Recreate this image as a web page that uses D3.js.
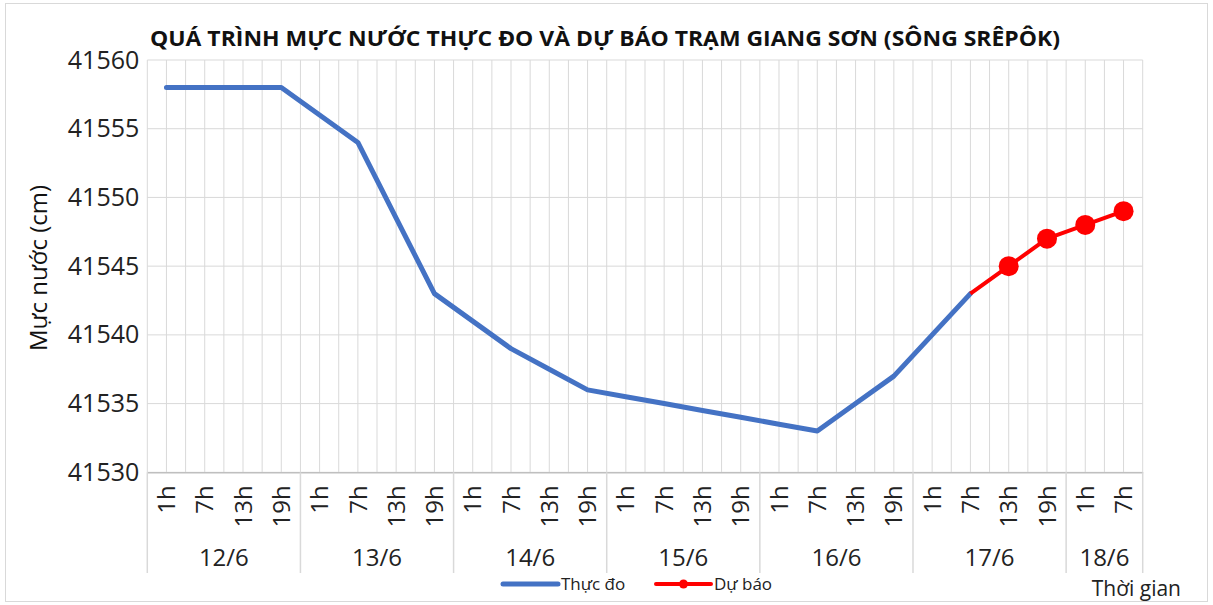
<!DOCTYPE html>
<html>
<head>
<meta charset="utf-8">
<script src="https://cdn.jsdelivr.net/npm/d3@7"></script>
<style>
  body { margin: 0; background: #fff; }
  svg { display: block; font-family: "Open Sans", "Liberation Sans", sans-serif; }
</style>
</head>
<body>
<svg id="chart" width="1213" height="605"></svg>
<script>
const days = ["12/6", "13/6", "14/6", "15/6", "16/6", "17/6", "18/6"];
const hoursPerDay = [
  ["1h", "7h", "13h", "19h"],
  ["1h", "7h", "13h", "19h"],
  ["1h", "7h", "13h", "19h"],
  ["1h", "7h", "13h", "19h"],
  ["1h", "7h", "13h", "19h"],
  ["1h", "7h", "13h", "19h"],
  ["1h", "7h"]
];
const observed = [41558, 41558, 41558, 41558, 41556, 41554, 41548.5, 41543,
                  41541, 41539, 41537.5, 41536, 41535.5, 41535, 41534.5, 41534,
                  41533.5, 41533, 41535, 41537, 41540, 41543,
                  null, null, null, null];
const forecast = [null, null, null, null, null, null, null, null,
                  null, null, null, null, null, null, null, null,
                  null, null, null, null, null, 41543,
                  41545, 41547, 41548, 41549];
const forecastMarked = [false, false, false, false, false, false, false, false,
                        false, false, false, false, false, false, false, false,
                        false, false, false, false, false, false,
                        true, true, true, true];
const yTicks = [41530, 41535, 41540, 41545, 41550, 41555, 41560];
const title = "QUÁ TRÌNH MỰC NƯỚC THỰC ĐO VÀ DỰ BÁO TRẠM GIANG SƠN (SÔNG SRÊPÔK)";
const yTitle = "Mực nước (cm)";
const xTitle = "Thời gian";
const seriesNames = ["Thực đo", "Dự báo"];

// Build categories
const categories = [];
days.forEach((d, i) => hoursPerDay[i].forEach(h => categories.push({ key: d + " " + h, day: d, hour: h })));

const svg = d3.select("#chart");
const pL = 147.3, pR = 1142.7, pT = 60, pB = 472.3;
const BLUE = "#4472C4", RED = "#FF0000", GRID = "#d9d9d9";
const FONT = "'Open Sans', 'Liberation Sans', sans-serif";

// outer border
svg.append("rect").attr("x", 5.5).attr("y", 3.5).attr("width", 1202).attr("height", 598)
  .attr("fill", "#fff").attr("stroke", "#d9d9d9").attr("stroke-width", 1);

const x = d3.scaleBand().domain(categories.map(c => c.key)).range([pL, pR]).padding(0);
const y = d3.scaleLinear().domain([41530, 41560]).range([pB, pT]);
const bw = x.bandwidth();

// vertical gridlines (band edges and centers)
const vLines = [];
categories.forEach(c => { vLines.push(x(c.key)); vLines.push(x(c.key) + bw / 2); });
vLines.push(pR);
svg.append("g").selectAll("line").data(vLines).join("line")
  .attr("x1", d => d).attr("x2", d => d).attr("y1", pT).attr("y2", pB)
  .attr("stroke", GRID).attr("stroke-width", 1);

// horizontal gridlines
svg.append("g").selectAll("line").data(yTicks).join("line")
  .attr("x1", pL).attr("x2", pR).attr("y1", d => y(d)).attr("y2", d => y(d))
  .attr("stroke", GRID).attr("stroke-width", 1);

// y axis labels
const yAxis = svg.append("g").attr("transform", `translate(${pL},0)`)
  .call(d3.axisLeft(y).tickValues(yTicks).tickSize(0).tickPadding(8).tickFormat(d3.format("d")));
yAxis.select(".domain").remove();
yAxis.attr("font-size", null).attr("font-family", null);
yAxis.selectAll("text").style("font-size", "25px").style("font-family", FONT).attr("fill", "#222");

// x axis: hours
const xAxis = svg.append("g").attr("transform", `translate(0,${pB})`)
  .call(d3.axisBottom(x).tickSize(0).tickFormat(k => categories.find(c => c.key === k).hour));
xAxis.attr("font-size", null).attr("font-family", null);
xAxis.select(".domain").attr("stroke", "#bfbfbf").attr("stroke-width", 1.5);
xAxis.selectAll("text")
  .style("font-size", "24px").style("font-family", FONT).attr("fill", "#222")
  .attr("transform", "rotate(-90)")
  .attr("text-anchor", "end")
  .attr("x", -13).attr("y", 0).attr("dy", "0.36em");

// day groups: separators and labels
let idx = 0;
const groups = days.map((d, i) => {
  const first = categories[idx].key;
  idx += hoursPerDay[i].length;
  const last = categories[idx - 1].key;
  return { day: d, x0: x(first), x1: x(last) + bw };
});
const seps = [pL].concat(groups.map(g => g.x1));
svg.append("g").selectAll("line").data(seps).join("line")
  .attr("x1", d => d).attr("x2", d => d).attr("y1", pB).attr("y2", 573)
  .attr("stroke", GRID).attr("stroke-width", 1.5);
svg.append("g").selectAll("text").data(groups).join("text")
  .attr("x", g => (g.x0 + g.x1) / 2).attr("y", 557).attr("dy", "0.36em")
  .attr("text-anchor", "middle").style("font-size", "24px").attr("fill", "#222")
  .text(g => g.day);

// series lines
const cx = i => x(categories[i].key) + bw / 2;
const lineGen = d3.line().defined(d => d.v !== null).x(d => cx(d.i)).y(d => y(d.v));
svg.append("path").datum(observed.map((v, i) => ({ v, i })))
  .attr("d", lineGen).attr("fill", "none").attr("stroke", BLUE)
  .attr("stroke-width", 5).attr("stroke-linejoin", "round").attr("stroke-linecap", "round");
svg.append("path").datum(forecast.map((v, i) => ({ v, i })))
  .attr("d", lineGen).attr("fill", "none").attr("stroke", RED)
  .attr("stroke-width", 4).attr("stroke-linejoin", "round");
svg.append("g").selectAll("circle")
  .data(forecast.map((v, i) => ({ v, i })).filter(d => d.v !== null && forecastMarked[d.i]))
  .join("circle").attr("cx", d => cx(d.i)).attr("cy", d => y(d.v)).attr("r", 10).attr("fill", RED);

// title
svg.append("text").attr("x", 150).attr("y", 38).attr("dy", "0.36em").attr("text-anchor", "start")
  .style("font-size", "21px").attr("font-weight", "bold").attr("fill", "#111")
  .attr("textLength", 910).attr("lengthAdjust", "spacingAndGlyphs").text(title);

// y title
svg.append("text").attr("transform", "translate(38,268) rotate(-90)").attr("dy", "0.36em")
  .attr("text-anchor", "middle").style("font-size", "24px").attr("fill", "#111").text(yTitle);

// x title
svg.append("text").attr("x", 1181).attr("y", 588).attr("dy", "0.36em").attr("text-anchor", "end")
  .style("font-size", "21px").attr("fill", "#222").text(xTitle);

// legend
const lg = svg.append("g").attr("transform", "translate(503,584)");
lg.append("line").attr("x1", 0).attr("x2", 55).attr("stroke", BLUE).attr("stroke-width", 5).attr("stroke-linecap", "round");
lg.append("text").attr("x", 58).attr("dy", "0.36em").style("font-size", "17px").attr("fill", "#222").text(seriesNames[0]);
lg.append("line").attr("x1", 153).attr("x2", 208).attr("stroke", RED).attr("stroke-width", 4).attr("stroke-linecap", "round");
lg.append("circle").attr("cx", 180.5).attr("r", 4.5).attr("fill", RED);
lg.append("text").attr("x", 211).attr("dy", "0.36em").style("font-size", "17px").attr("fill", "#222").text(seriesNames[1]);
</script>
</body>
</html>
